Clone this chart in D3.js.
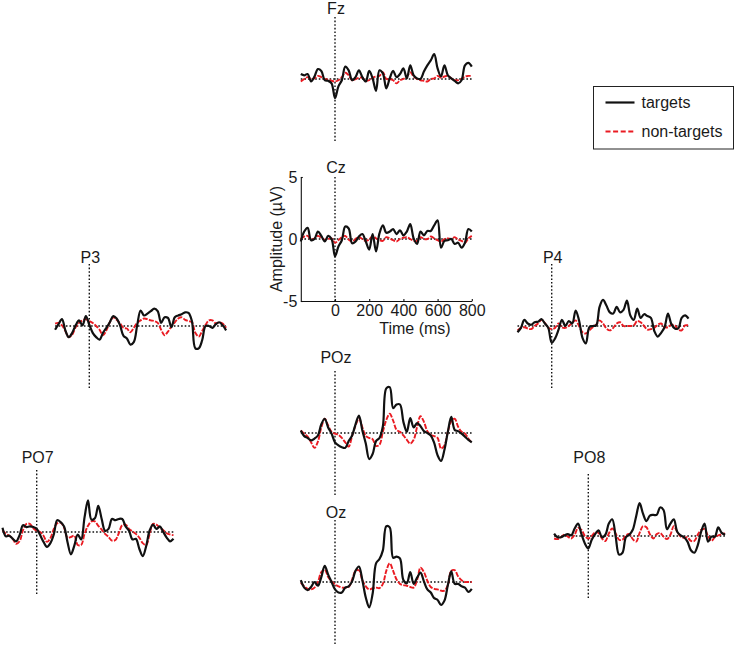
<!DOCTYPE html>
<html>
<head>
<meta charset="utf-8">
<script src="https://cdn.jsdelivr.net/npm/d3@7"></script>
<style>
    body { margin: 0; background: #fff; }
    svg text { font-family: 'Liberation Sans', Arial, sans-serif; fill: #1a1a1a; }
</style>
</head>
<body>
<div id="vis"></div>
<script>
// sample times (ms), shared by every channel
var times = [-200, -180, -160, -140, -120, -100, -80, -60, -40, -20,
    0, 20, 40, 60, 80, 100, 120, 140, 160, 180,
    200, 220, 240, 260, 280, 300, 320, 340, 360, 380,
    400, 420, 440, 460, 480, 500, 520, 540, 560, 580,
    600, 620, 640, 660, 680, 700, 720, 740, 760, 780, 800];

var channels = ['Fz', 'Cz', 'P3', 'P4', 'POz', 'PO7', 'PO8', 'Oz'];

// amplitudes in microvolts
var fzTargets = [0.4, 0.3, 0.4, -0.2, 0.2, 0.8, 0.65, -0.1, -0.15, -0.35, -1.55, -0.6, -0.1, 1.0, 0.7, -0.1, 0.15, 0.7, 0.15, -0.2, 0.65, 0.05, -0.95, 0.7, 0.45, -0.75, 0.05, 0.65, 0.15, 0.4, 0.85, 0.05, 1.1, 0.3, 0.05, 0.0, 0.6, 1.1, 1.5, 2.0, 0.85, 0.2, 1.1, 0.3, 0.05, -0.15, -0.35, -0.1, 1.1, 1.3, 1.0];
var fzNonTargets = [-0.2, 0.0, 0.15, 0.0, 0.05, 0.25, 0.15, 0.0, -0.05, -0.15, -0.2, -0.1, 0.15, 0.5, 0.3, -0.1, 0.0, 0.1, 0.1, -0.15, -0.1, 0.1, 0.2, 0.25, 0.55, 0.0, 0.0, -0.1, -0.35, -0.1, 0.0, 0.2, 0.55, 0.2, 0.0, -0.1, -0.15, -0.2, 0.0, 0.05, 0.25, 0.1, 0.2, 0.25, 0.05, -0.1, -0.1, 0.0, 0.2, 0.25, 0.25];

var czTargets = [-0.2, 0.6, 0.9, -0.1, 0.0, 0.6, 0.25, -0.2, 0.25, 0.0, -1.4, -0.6, -0.1, 1.0, 0.85, -0.35, -0.2, 0.2, 0.4, -0.2, -0.85, 0.4, -1.0, 0.45, 1.1, 0.5, 0.6, 0.8, 0.4, 0.7, 0.3, 0.6, 1.2, 0.05, -0.4, 0.6, 0.3, 0.65, 0.65, 1.1, 1.5, -0.7, -0.15, -0.1, 0.0, -0.4, -0.3, -0.7, -0.3, 0.8, 0.6];
var czNonTargets = [0.0, 0.2, 0.25, -0.05, 0.05, 0.25, 0.1, -0.05, 0.0, 0.05, -0.3, -0.1, 0.15, 0.25, -0.05, -0.2, 0.0, 0.15, 0.0, -0.15, -0.05, 0.25, 0.05, -0.1, -0.15, 0.15, 0.05, -0.1, -0.2, 0.0, 0.1, 0.15, 0.0, -0.15, -0.15, 0.15, 0.0, 0.0, 0.2, 0.05, -0.1, -0.2, 0.0, 0.05, 0.0, 0.15, -0.05, -0.15, -0.3, 0.05, 0.25];

var p3Targets = [-0.3, 0.15, 0.55, -0.35, -0.9, -0.55, 0.05, 0.45, 0.05, 0.8, 0.1, -0.55, -0.9, -1.1, -0.55, -0.15, 0.3, 0.8, 0.6, 0.05, -0.8, -1.0, -1.5, -1.3, 0.05, 1.25, 0.85, 1.0, 1.2, 1.4, 1.2, 0.25, 0.7, 0.65, -0.1, 0.7, 0.85, 0.95, 1.1, 1.05, 0.4, -1.8, -1.8, -1.15, 0.0, 0.0, -0.15, 0.15, 0.3, 0.05, -0.35];
var p3NonTargets = [0.2, 0.25, 0.05, -0.4, -0.9, -0.7, -0.1, 0.25, 0.45, 0.55, 0.4, 0.25, 0.0, -0.3, -0.75, -0.35, 0.3, 0.7, 0.5, 0.2, -0.15, -0.2, -0.5, -0.15, 0.25, 0.45, 0.6, 0.55, 0.45, 0.4, 0.25, -0.3, -0.75, -0.45, -0.05, 0.3, 0.6, 0.7, 0.5, 0.4, 0.3, -0.55, -0.85, -0.4, 0.1, 0.45, 0.45, 0.2, 0.3, 0.2, -0.15];

var p4Targets = [-0.5, -0.15, 0.5, 0.2, 0.1, 0.3, 0.35, 0.55, 0.2, -0.15, -1.35, -1.0, -0.3, 0.5, 0.0, 0.4, 0.2, 1.25, 0.45, -0.95, -1.4, -0.1, 0.0, 0.05, 1.55, 2.1, 1.65, 1.1, 1.0, 1.55, 1.1, 1.3, 2.05, 0.85, 0.5, 1.4, 0.65, 0.95, 0.8, 0.65, -0.4, -0.85, -0.55, -0.1, 1.0, 0.15, -0.2, -0.2, 0.65, 0.85, 0.6];
var p4NonTargets = [-0.35, -0.15, -0.1, -0.2, -0.25, 0.0, 0.2, 0.5, 0.25, -0.15, -0.25, -0.15, 0.2, -0.1, -0.15, 0.0, 0.25, 0.45, 0.0, -0.5, -0.6, -0.35, -0.1, 0.1, 0.45, 0.2, -0.2, -0.35, -0.15, 0.2, 0.3, 0.0, 0.0, 0.0, 0.05, 0.4, 0.3, 0.0, -0.3, -0.25, -0.15, 0.1, 0.2, -0.1, -0.1, 0.1, 0.05, -0.3, -0.35, 0.05, 0.05];

var pozTargets = [0.2, -0.25, -0.4, -0.6, -0.45, -0.2, 0.7, 1.15, 0.45, -0.05, -0.75, -1.0, -1.15, -1.2, -0.65, -0.2, 0.7, 1.4, 0.2, -0.85, -2.1, -1.7, -0.65, -0.4, 0.55, 3.6, 3.7, 2.0, 2.3, 2.3, 0.9, 0.1, 1.2, 0.45, 0.8, 0.55, 0.15, 0.0, -0.2, -0.8, -1.8, -2.25, -1.35, 0.1, 1.3, 0.25, 0.15, -0.05, -0.3, -0.55, -0.75];
var pozNonTargets = [0.2, -0.05, -0.3, -0.75, -1.2, -0.7, 0.45, 1.15, 0.6, 0.1, -0.05, -0.15, -0.4, -0.75, -1.1, -0.25, 0.6, 1.15, 0.45, -0.25, -0.4, -0.5, -1.05, -0.95, 0.1, 1.05, 1.55, 1.0, 0.25, 0.1, -0.2, -0.55, -0.85, -0.55, 0.5, 1.35, 0.9, 0.15, -0.15, -0.25, -0.4, -1.25, -1.0, 0.1, 0.95, 1.15, 0.5, 0.1, -0.05, -0.45, -0.8];

var po7Targets = [0.35, -0.35, -0.3, -0.55, -0.75, -0.25, 0.55, 0.4, 0.45, 0.4, 0.25, -0.25, -0.8, -1.2, -0.9, -0.2, 0.95, 0.8, 0.45, -0.8, -1.8, -1.1, -0.2, -0.6, 1.2, 2.55, 1.0, 1.1, 2.1, 1.05, 0.1, 0.25, 1.05, 0.95, 1.05, 1.05, 0.45, 0.1, -0.6, -0.55, -1.35, -1.95, -1.15, 0.1, 0.6, 0.25, 0.45, 0.0, -0.45, -0.75, -0.55];
var po7NonTargets = [0.15, -0.15, -0.3, -0.55, -0.95, -0.75, 0.15, 0.65, 0.65, 0.3, 0.1, 0.0, -0.3, -0.8, -0.5, 0.25, 0.7, 0.75, 0.35, -0.45, -0.4, -0.3, -1.05, -1.05, -0.15, 0.5, 0.85, 0.85, 0.5, 0.2, -0.15, -0.4, -0.7, -0.65, -0.1, 0.55, 0.6, 0.25, 0.05, -0.15, -0.45, -0.9, -1.05, -0.2, 0.65, 0.6, 0.35, 0.15, -0.1, -0.2, -0.25];

var po8Targets = [0.2, -0.1, -0.1, 0.05, 0.15, 0.05, 0.6, 1.0, 0.15, -0.6, -1.0, -0.3, 0.15, 0.45, -0.1, 0.1, 1.0, 1.35, -0.05, -1.5, -1.35, -0.1, 0.1, 0.5, 1.6, 2.65, 1.8, 1.2, 1.65, 1.7, 1.7, 2.3, 2.1, 0.55, 1.0, 1.35, 0.35, 0.05, -0.1, -0.45, -1.15, -1.35, -0.75, 0.35, 1.0, -0.45, -0.05, -0.05, 0.7, 0.25, 0.1];
var po8NonTargets = [-0.2, -0.25, -0.1, 0.1, -0.05, -0.2, 0.1, 0.65, 0.5, 0.0, -0.2, 0.0, 0.3, 0.25, -0.2, -0.4, 0.2, 0.6, 0.2, -0.3, -0.3, 0.05, 0.15, -0.25, -0.45, 0.25, 0.8, 0.7, 0.15, -0.2, 0.15, 0.25, -0.05, -0.25, 0.1, 0.8, 0.35, -0.05, -0.15, -0.1, -0.4, -0.4, 0.1, 0.5, 0.55, 0.0, -0.4, -0.1, 0.05, 0.15, 0.2];

var ozTargets = [0.15, -0.45, -0.65, -0.4, 0.0, -0.3, 0.4, 1.3, 0.6, 0.0, -0.6, -0.85, -0.85, -0.45, -0.35, 0.05, 0.9, 1.25, 0.15, -1.25, -2.05, -0.95, 1.5, 1.85, 2.55, 4.5, 4.4, 1.95, 2.05, 1.9, 0.15, -0.1, 0.8, -0.15, 0.35, 0.75, 0.05, -0.6, -0.85, -1.3, -1.45, -1.85, -1.5, -0.25, 0.85, -0.15, -0.15, -0.35, -0.45, -0.8, -0.55];
var ozNonTargets = [-0.05, -0.35, -0.55, -0.6, -0.45, 0.0, 0.8, 1.0, 0.4, 0.05, -0.2, -0.35, -0.45, -0.45, -0.4, 0.2, 0.9, 0.95, 0.15, -0.35, -0.6, -0.5, -0.45, -0.5, -0.15, 0.9, 1.5, 0.9, 0.2, -0.15, -0.25, -0.3, -0.4, -0.45, 0.15, 1.15, 0.8, 0.1, -0.4, -0.55, -0.6, -0.7, -0.7, -0.25, 0.9, 0.95, 0.45, 0.15, 0.0, 0.0, 0.0];

var xTicks = [0, 200, 400, 600, 800];
var yTicks = [-5, 0, 5];
var legendLabels = ['targets', 'non-targets'];

// lookup built from the arrays above
var series = {
    Fz: [fzTargets, fzNonTargets],
    Cz: [czTargets, czNonTargets],
    P3: [p3Targets, p3NonTargets],
    P4: [p4Targets, p4NonTargets],
    POz: [pozTargets, pozNonTargets],
    PO7: [po7Targets, po7NonTargets],
    PO8: [po8Targets, po8NonTargets],
    Oz: [ozTargets, ozNonTargets]
};

// where each small plot sits: x of time 0, y of 0 uV, label baseline
var layout = {
    Fz:  { x0: 335,   y0: 79,  labelY: 13.5 },
    Cz:  { x0: 335,   y0: 239, labelY: 172.5, axes: true },
    P3:  { x0: 89.3,  y0: 326, labelY: 262.5 },
    P4:  { x0: 551.7, y0: 326, labelY: 262.5 },
    POz: { x0: 335,   y0: 433, labelY: 362.5 },
    PO7: { x0: 36.7,  y0: 532, labelY: 463 },
    PO8: { x0: 588.3, y0: 536, labelY: 462.5 },
    Oz:  { x0: 335,   y0: 582, labelY: 518 }
};

var redColor = '#ea1b22';

var svg = d3.select('#vis')
    .append('svg')
    .attr('width', 737)
    .attr('height', 646);

svg.append('rect')
    .attr('width', 737)
    .attr('height', 646)
    .attr('fill', '#fff');

var dotted = function(sel) {
    sel.attr('stroke', '#111')
        .attr('stroke-width', 1.4)
        .attr('stroke-dasharray', '1.6,2');
};

channels.forEach(function(name) {
    var p = layout[name];
    var xScale = d3.scaleLinear().domain([-200, 800]).range([p.x0 - 34.2, p.x0 + 136.8]);
    var yScale = d3.scaleLinear().domain([-5, 5]).range([p.y0 + 62, p.y0 - 62]);

    var g = svg.append('g').attr('class', 'panel');

    if (p.axes) {
        var yAxis = d3.axisLeft(yScale)
            .tickValues(yTicks)
            .tickSize(-2)
            .tickSizeOuter(0)
            .tickPadding(3.5)
            .tickFormat(function(d) { return String(d); });
        var xAxis = d3.axisBottom(xScale)
            .tickValues(xTicks)
            .tickSize(-2)
            .tickSizeOuter(0)
            .tickPadding(3.5)
            .tickFormat(function(d) { return String(d); });

        var ya = g.append('g')
            .attr('transform', 'translate(' + xScale(-200) + ',0)')
            .call(yAxis);
        var xa = g.append('g')
            .attr('transform', 'translate(0,' + yScale(-5) + ')')
            .call(xAxis);
        [ya, xa].forEach(function(a) {
            a.selectAll('path, line').attr('stroke', '#111').attr('stroke-width', 1.1);
            a.selectAll('text')
                .attr('fill', '#1a1a1a')
                .style('font-size', '16px')
                .style('font-family', "'Liberation Sans', Arial, sans-serif");
        });

        g.append('text')
            .attr('transform', 'translate(281.5,' + yScale(0) + ')rotate(-90)')
            .style('text-anchor', 'middle')
            .style('font-size', '16px')
            .text('Amplitude (\u00b5V)');

        g.append('text')
            .attr('x', 415)
            .attr('y', 334)
            .style('text-anchor', 'middle')
            .style('font-size', '16px')
            .text('Time (ms)');
    }

    g.append('line')
        .attr('x1', xScale(-200)).attr('x2', xScale(800))
        .attr('y1', yScale(0)).attr('y2', yScale(0))
        .call(dotted);

    g.append('line')
        .attr('x1', xScale(0)).attr('x2', xScale(0))
        .attr('y1', yScale(5)).attr('y2', yScale(-5))
        .call(dotted);

    var line = d3.line()
        .x(function(d, i) { return xScale(times[i]); })
        .y(function(d) { return yScale(d); })
        .curve(d3.curveCatmullRom);

    g.append('path')
        .datum(series[name][1])
        .attr('d', line)
        .attr('fill', 'none')
        .attr('stroke', redColor)
        .attr('stroke-width', 1.9)
        .attr('stroke-dasharray', '5,1.4');

    g.append('path')
        .datum(series[name][0])
        .attr('d', line)
        .attr('fill', 'none')
        .attr('stroke', '#111')
        .attr('stroke-width', 2.2);

    g.append('text')
        .attr('x', p.x0 + 1)
        .attr('y', p.labelY)
        .style('text-anchor', 'middle')
        .style('font-size', '16px')
        .text(name);
});

// legend
var legend = svg.append('g').attr('transform', 'translate(593.5,86.5)');
legend.append('rect')
    .attr('width', 140)
    .attr('height', 62.5)
    .attr('fill', '#fff')
    .attr('stroke', '#222')
    .attr('stroke-width', 1);

legendLabels.forEach(function(lab, i) {
    var yy = 16 + i * 29;
    legend.append('line')
        .attr('x1', 12).attr('x2', 41)
        .attr('y1', yy).attr('y2', yy)
        .attr('stroke', i === 0 ? '#111' : redColor)
        .attr('stroke-width', i === 0 ? 2.2 : 1.9)
        .attr('stroke-dasharray', i === 0 ? null : '5,2.6');
    legend.append('text')
        .attr('x', 48)
        .attr('y', yy + 5.5)
        .style('font-size', '16px')
        .text(lab);
});
</script>
</body>
</html>
